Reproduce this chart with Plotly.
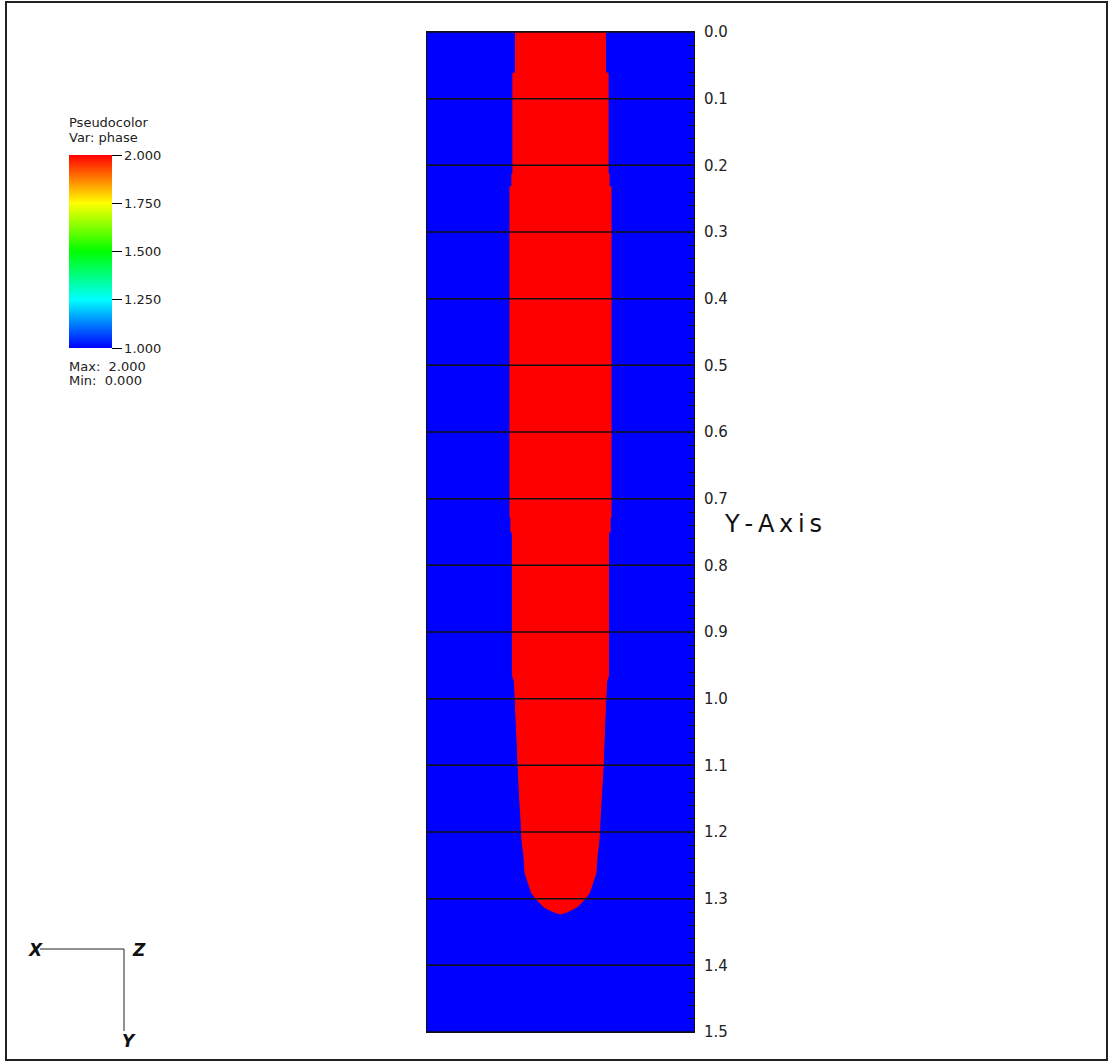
import plotly.graph_objects as go

# ---------------- data ----------------
# depth (Y) samples along the red column boundary and its half-width
depth = [0.0, 0.0615, 0.0615, 0.213, 0.213, 0.232, 0.232, 0.728, 0.728, 0.75, 0.75,
         0.965, 0.975, 1.044, 1.10, 1.145, 1.175, 1.212, 1.235, 1.262, 1.277,
         1.292, 1.302, 1.3125, 1.32, 1.323]
half_width = [0.0675, 0.0675, 0.0713, 0.0713, 0.0728, 0.0728, 0.0757, 0.0757, 0.0743, 0.0743, 0.072,
              0.072, 0.069, 0.066, 0.064, 0.0615, 0.0595, 0.0578, 0.055, 0.053, 0.048,
              0.043, 0.035, 0.025, 0.01, 0.0]
column_center = 0.2
domain_x = [0.0, 0.4]
domain_y = [0.0, 1.5]
background_phase = 1.0
column_phase = 2.0

y_ticks = [0.0, 0.1, 0.2, 0.3, 0.4, 0.5, 0.6, 0.7, 0.8, 0.9, 1.0, 1.1, 1.2, 1.3, 1.4, 1.5]
y_ticktext = ["0.0", "0.1", "0.2", "0.3", "0.4", "0.5", "0.6", "0.7", "0.8", "0.9",
              "1.0", "1.1", "1.2", "1.3", "1.4", "1.5"]
cbar_vals = [1.0, 1.25, 1.5, 1.75, 2.0]
cbar_text = ["1.000", "1.250", "1.500", "1.750", "2.000"]

colorscale = [[0.0, "#0000ff"], [0.25, "#00ffff"], [0.5, "#00ff00"],
              [0.75, "#ffff00"], [1.0, "#ff0000"]]

# ---------------- geometry helpers (pixels -> paper) ----------------
W, H = 1108, 1061
L, R, T, B = 427, 414, 32, 29
PW, PH = W - L - R, H - T - B


def px(x):
    return (x - L) / PW


def py(y):
    return (H - B - y) / PH


fig = go.Figure()

# background field (phase = 1) with the colour bar
fig.add_trace(go.Heatmap(
    x=domain_x, y=domain_y,
    z=[[background_phase, background_phase], [background_phase, background_phase]],
    zmin=1.0, zmax=2.0, colorscale=colorscale, hoverinfo="skip",
    colorbar=dict(
        x=px(69), xanchor="left", xpad=0,
        y=py(251.5), yanchor="middle", ypad=0,
        lenmode="pixels", len=193, thickness=43,
        outlinewidth=0,
        tickmode="array", tickvals=cbar_vals, ticktext=cbar_text,
        ticks="outside", ticklen=10, tickwidth=1, tickcolor="#000",
        tickfont=dict(family="DejaVu Sans", size=13, color="#222"),
    ),
))

# red column (phase = 2) as a filled outline
poly_x = [column_center - w for w in half_width] + [column_center + w for w in reversed(half_width)]
poly_y = list(depth) + list(reversed(depth))
fig.add_trace(go.Scatter(
    x=poly_x, y=poly_y, mode="lines", fill="toself",
    fillcolor="#ff0000", line=dict(color="#ff0000", width=1),
    hoverinfo="skip", showlegend=False,
))

# horizontal lines drawn above the field at every major tick
shapes = []
for v in y_ticks:
    shapes.append(dict(type="line", xref="x", yref="y", x0=domain_x[0], x1=domain_x[1],
                       y0=v, y1=v, line=dict(color="#111", width=1.5), layer="above"))

# axis triad (bottom-left)
shapes.append(dict(type="line", xref="paper", yref="paper", x0=px(40), x1=px(124),
                   y0=py(949), y1=py(949), line=dict(color="#222", width=1)))
shapes.append(dict(type="line", xref="paper", yref="paper", x0=px(124), x1=px(124),
                   y0=py(949), y1=py(1031), line=dict(color="#222", width=1)))
# outer frame
shapes.append(dict(type="rect", xref="paper", yref="paper", x0=px(6), x1=px(1107),
                   y0=py(2), y1=py(1060), line=dict(color="#222", width=2)))

legend_font = dict(family="DejaVu Sans", size=13, color="#222")
annotations = []
for txt, top in [("Pseudocolor", 113), ("Var: phase", 128), ("Max:  2.000", 357), ("Min:  0.000", 371)]:
    annotations.append(dict(text=txt, x=px(67), y=py(top), xref="paper", yref="paper",
                            xanchor="left", yanchor="top", align="left", showarrow=False,
                            font=legend_font))
annotations += [
    dict(text="Y\u2009-\u2009A\u2009x\u2009i\u2009s", x=px(722), y=py(524), xref="paper", yref="paper",
         xanchor="left", yanchor="middle", showarrow=False,
         font=dict(family="DejaVu Sans", size=24, color="#111")),
    dict(text="<b><i>X</i></b>", x=px(35), y=py(950), xref="paper", yref="paper",
         xanchor="center", yanchor="middle", showarrow=False,
         font=dict(family="DejaVu Sans", size=17, color="#111")),
    dict(text="<b><i>Z</i></b>", x=px(139), y=py(950), xref="paper", yref="paper",
         xanchor="center", yanchor="middle", showarrow=False,
         font=dict(family="DejaVu Sans", size=17, color="#111")),
    dict(text="<b><i>Y</i></b>", x=px(129), y=py(1041), xref="paper", yref="paper",
         xanchor="center", yanchor="middle", showarrow=False,
         font=dict(family="DejaVu Sans", size=17, color="#111")),
]

fig.update_layout(
    width=W, height=H,
    margin=dict(l=L, r=R, t=T, b=B),
    paper_bgcolor="white", plot_bgcolor="#0000ff",
    showlegend=False,
    shapes=shapes, annotations=annotations,
    xaxis=dict(range=domain_x, showticklabels=False, ticks="", showgrid=False,
               zeroline=False, showline=True, linecolor="#111", linewidth=1, mirror=True),
    yaxis=dict(range=[domain_y[1], domain_y[0]], side="right",
               tickmode="array", tickvals=y_ticks, ticktext=y_ticktext,
               ticks="inside", ticklen=6, tickwidth=1, tickcolor="#111",
               minor=dict(dtick=0.02, ticks="inside", ticklen=5, tickcolor="#111", showgrid=False),
               ticklabelstandoff=6,
               tickfont=dict(family="DejaVu Sans", size=15, color="#222"),
               showgrid=False, zeroline=False,
               showline=True, linecolor="#111", linewidth=1, mirror=True),
)

fig.write_html("out.html")
